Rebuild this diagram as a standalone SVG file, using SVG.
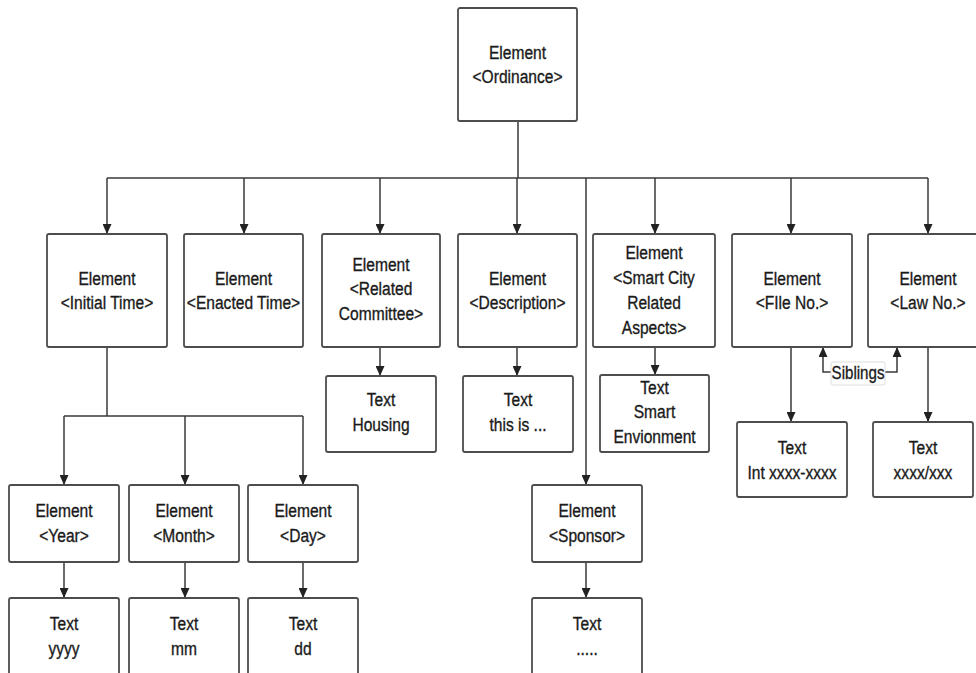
<svg xmlns="http://www.w3.org/2000/svg" width="976" height="673" viewBox="0 0 976 673">
  <style>
    .box { fill: #ffffff; stroke: #4d4d4d; stroke-width: 1.8; }
    .wire { fill: none; stroke: #3a3a3a; stroke-width: 1.5; }
    .arrow { fill: none; stroke: #3a3a3a; stroke-width: 1.5; marker-end: url(#head); }
    .lbl { font-family: "Liberation Sans", Arial, Helvetica, sans-serif; font-size: 19px; fill: #1a1a1a; stroke: #1a1a1a; stroke-width: 0.35; text-anchor: middle; }
    .tag { fill: #ffffff; stroke: #dddddd; stroke-width: 1; }
  </style>
  <defs>
    <!-- filled arrowhead pointing along the path direction, tip at the end point -->
    <marker id="head" markerUnits="userSpaceOnUse" markerWidth="10" markerHeight="9" refX="10" refY="4.5" orient="auto" viewBox="0 0 10 9">
      <path d="M0,0 L10,4.5 L0,9 Z" fill="#222222"/>
    </marker>
  </defs>
  <rect width="976" height="673" fill="#ffffff"/>

  <!-- connectors -->
  <g id="connectors">
    <path class="wire" d="M518,121 V178 M107,178 H928"/>
    <path class="arrow" d="M107,178 V234"/>
    <path class="arrow" d="M244,178 V234"/>
    <path class="arrow" d="M380,178 V234"/>
    <path class="arrow" d="M517,178 V234"/>
    <path class="arrow" d="M655,178 V234"/>
    <path class="arrow" d="M791,178 V234"/>
    <path class="arrow" d="M928,178 V234"/>
    <path class="arrow" d="M586,178 V485"/>
    <path class="wire" d="M107,347 V416 M64,416 H303"/>
    <path class="arrow" d="M64,416 V485"/>
    <path class="arrow" d="M185,416 V485"/>
    <path class="arrow" d="M303,416 V485"/>
    <path class="arrow" d="M64,562 V598"/>
    <path class="arrow" d="M185,562 V598"/>
    <path class="arrow" d="M303,562 V598"/>
    <path class="arrow" d="M586,562 V598"/>
    <path class="arrow" d="M380,347 V376"/>
    <path class="arrow" d="M517,347 V376"/>
    <path class="arrow" d="M655,347 V375"/>
    <path class="arrow" d="M791,347 V422"/>
    <path class="arrow" d="M928,347 V422"/>
    <path class="arrow" d="M831,372 H823 V347"/>
    <path class="arrow" d="M885,372 H897 V347"/>
    <rect class="tag" x="831" y="362" width="54" height="23" rx="2"/>
    <text class="lbl" style="font-size:18px" transform="matrix(0.84 0 0 1 858 0)" x="0" y="379">Siblings</text>
  </g>

  <!-- root -->
  <g id="ordinance">
    <rect class="box" x="458" y="8" width="119" height="113" rx="2"/>
    <text class="lbl" transform="matrix(0.82 0 0 1 517.5 0)" x="0" y="59">Element<tspan x="0" dy="24.5">&lt;Ordinance&gt;</tspan></text>
  </g>

  <!-- first level -->
  <g id="initial-time">
    <rect class="box" x="47" y="234" width="120" height="113" rx="2"/>
    <text class="lbl" transform="matrix(0.82 0 0 1 107 0)" x="0" y="285">Element<tspan x="0" dy="24.5">&lt;Initial Time&gt;</tspan></text>
  </g>
  <g id="enacted-time">
    <rect class="box" x="184" y="234" width="119" height="113" rx="2"/>
    <text class="lbl" transform="matrix(0.82 0 0 1 243.5 0)" x="0" y="285">Element<tspan x="0" dy="24.5">&lt;Enacted Time&gt;</tspan></text>
  </g>
  <g id="related-committee">
    <rect class="box" x="322" y="234" width="118" height="113" rx="2"/>
    <text class="lbl" transform="matrix(0.82 0 0 1 381 0)" x="0" y="271">Element<tspan x="0" dy="24.5">&lt;Related</tspan><tspan x="0" dy="24.5">Committee&gt;</tspan></text>
  </g>
  <g id="description">
    <rect class="box" x="458" y="234" width="119" height="113" rx="2"/>
    <text class="lbl" transform="matrix(0.82 0 0 1 517.5 0)" x="0" y="285">Element<tspan x="0" dy="24.5">&lt;Description&gt;</tspan></text>
  </g>
  <g id="smart-city">
    <rect class="box" x="593" y="234" width="122" height="113" rx="2"/>
    <text class="lbl" transform="matrix(0.82 0 0 1 654 0)" x="0" y="259">Element<tspan x="0" dy="25">&lt;Smart City</tspan><tspan x="0" dy="25">Related</tspan><tspan x="0" dy="25">Aspects&gt;</tspan></text>
  </g>
  <g id="file-no">
    <rect class="box" x="732" y="234" width="120" height="113" rx="2"/>
    <text class="lbl" transform="matrix(0.82 0 0 1 792 0)" x="0" y="285">Element<tspan x="0" dy="24.5">&lt;FIle No.&gt;</tspan></text>
  </g>
  <g id="law-no">
    <rect class="box" x="868" y="234" width="120" height="113" rx="2"/>
    <text class="lbl" transform="matrix(0.82 0 0 1 928 0)" x="0" y="285">Element<tspan x="0" dy="24.5">&lt;Law No.&gt;</tspan></text>
  </g>

  <!-- text values under first level -->
  <g id="text-housing">
    <rect class="box" x="326" y="376" width="110" height="76" rx="2"/>
    <text class="lbl" transform="matrix(0.82 0 0 1 381 0)" x="0" y="406">Text<tspan x="0" dy="25">Housing</tspan></text>
  </g>
  <g id="text-description">
    <rect class="box" x="463" y="376" width="110" height="76" rx="2"/>
    <text class="lbl" transform="matrix(0.82 0 0 1 518 0)" x="0" y="406">Text<tspan x="0" dy="25">this is ...</tspan></text>
  </g>
  <g id="text-smart">
    <rect class="box" x="600" y="375" width="109" height="77" rx="2"/>
    <text class="lbl" transform="matrix(0.82 0 0 1 654.5 0)" x="0" y="394">Text<tspan x="0" dy="24.5">Smart</tspan><tspan x="0" dy="24.5">Envionment</tspan></text>
  </g>
  <g id="text-file-no">
    <rect class="box" x="737" y="422" width="110" height="75" rx="2"/>
    <text class="lbl" transform="matrix(0.82 0 0 1 792 0)" x="0" y="454">Text<tspan x="0" dy="25">Int xxxx-xxxx</tspan></text>
  </g>
  <g id="text-law-no">
    <rect class="box" x="873" y="422" width="100" height="75" rx="2"/>
    <text class="lbl" transform="matrix(0.82 0 0 1 923 0)" x="0" y="454">Text<tspan x="0" dy="25">xxxx/xxx</tspan></text>
  </g>

  <!-- second level -->
  <g id="year">
    <rect class="box" x="9" y="485" width="110" height="77" rx="2"/>
    <text class="lbl" transform="matrix(0.82 0 0 1 64 0)" x="0" y="517">Element<tspan x="0" dy="25">&lt;Year&gt;</tspan></text>
  </g>
  <g id="month">
    <rect class="box" x="129" y="485" width="110" height="77" rx="2"/>
    <text class="lbl" transform="matrix(0.82 0 0 1 184 0)" x="0" y="517">Element<tspan x="0" dy="25">&lt;Month&gt;</tspan></text>
  </g>
  <g id="day">
    <rect class="box" x="248" y="485" width="110" height="77" rx="2"/>
    <text class="lbl" transform="matrix(0.82 0 0 1 303 0)" x="0" y="517">Element<tspan x="0" dy="25">&lt;Day&gt;</tspan></text>
  </g>
  <g id="sponsor">
    <rect class="box" x="532" y="485" width="110" height="77" rx="2"/>
    <text class="lbl" transform="matrix(0.82 0 0 1 587 0)" x="0" y="517">Element<tspan x="0" dy="25">&lt;Sponsor&gt;</tspan></text>
  </g>

  <!-- leaf text values -->
  <g id="text-year">
    <rect class="box" x="9" y="598" width="110" height="80" rx="2"/>
    <text class="lbl" transform="matrix(0.82 0 0 1 64 0)" x="0" y="630">Text<tspan x="0" dy="25">yyyy</tspan></text>
  </g>
  <g id="text-month">
    <rect class="box" x="129" y="598" width="110" height="80" rx="2"/>
    <text class="lbl" transform="matrix(0.82 0 0 1 184 0)" x="0" y="630">Text<tspan x="0" dy="25">mm</tspan></text>
  </g>
  <g id="text-day">
    <rect class="box" x="248" y="598" width="110" height="80" rx="2"/>
    <text class="lbl" transform="matrix(0.82 0 0 1 303 0)" x="0" y="630">Text<tspan x="0" dy="25">dd</tspan></text>
  </g>
  <g id="text-sponsor">
    <rect class="box" x="532" y="598" width="110" height="80" rx="2"/>
    <text class="lbl" transform="matrix(0.82 0 0 1 587 0)" x="0" y="630">Text<tspan x="0" dy="25">.....</tspan></text>
  </g>
</svg>
